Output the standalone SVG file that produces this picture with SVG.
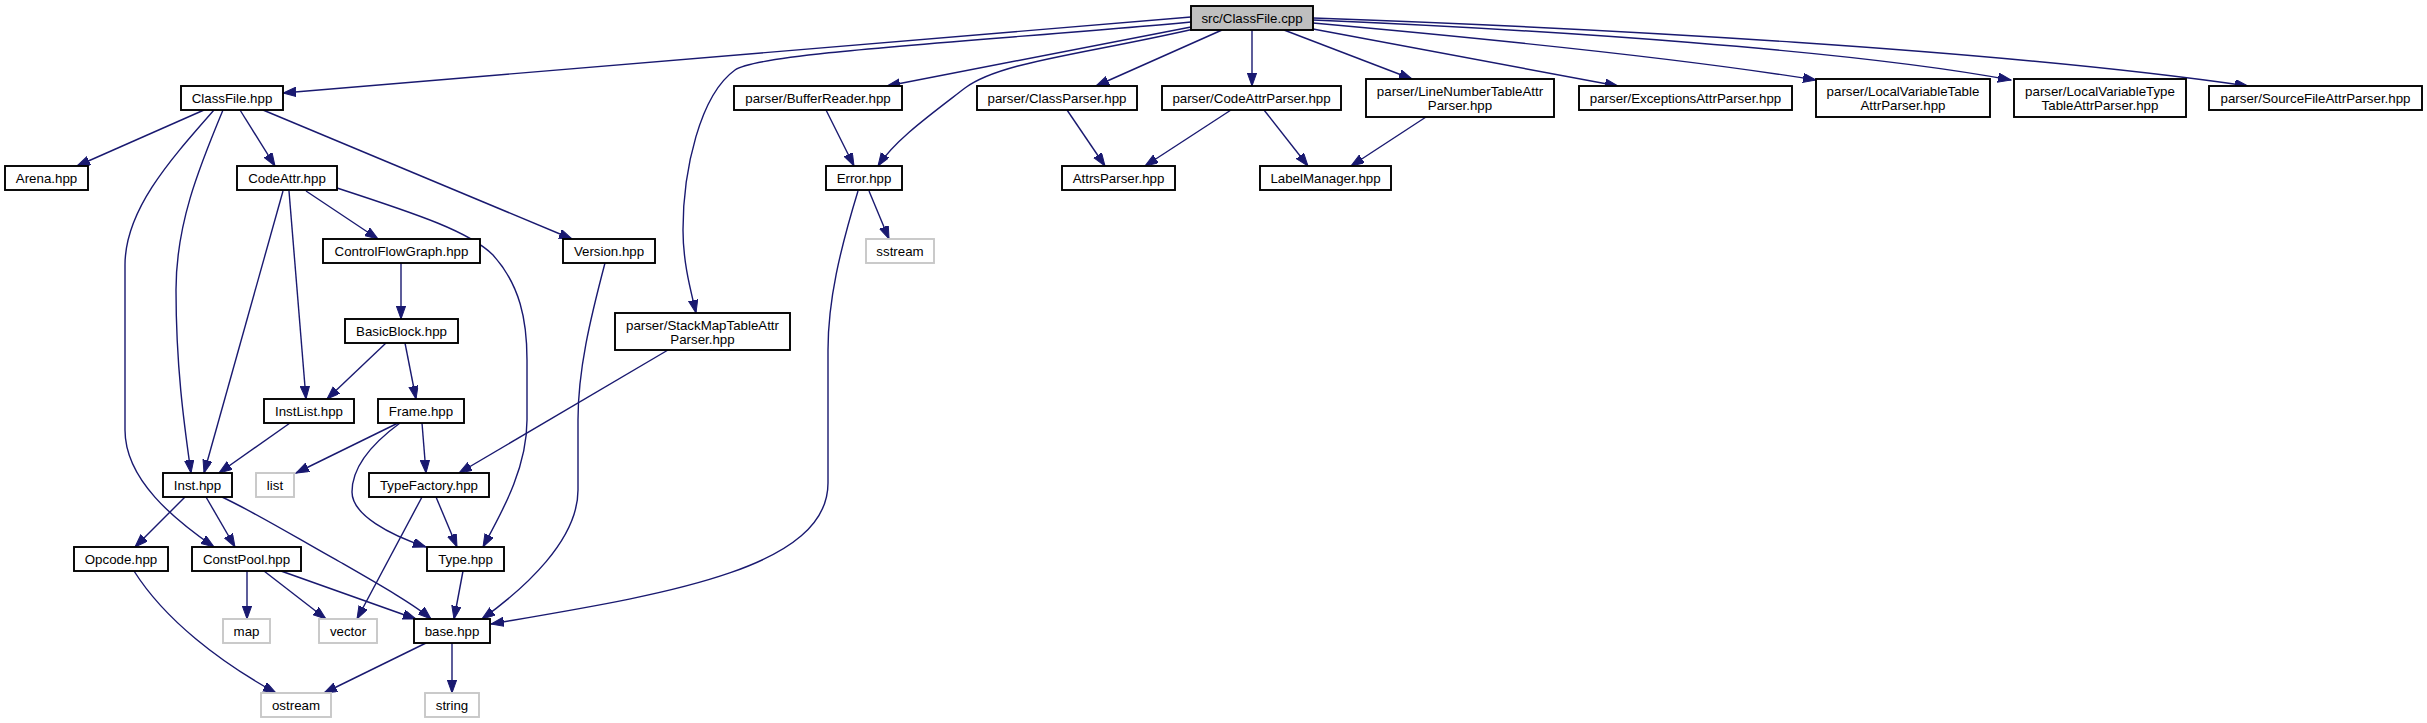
<svg xmlns="http://www.w3.org/2000/svg" width="2427" height="723" viewBox="0 0 2427 723">
<defs>
<style>
.n rect{fill:#ffffff;stroke:#000000;stroke-width:1.9}
.n.sys rect{stroke:#c8c8c8}
.n.root rect{fill:#bfbfbf}
.n text{font-family:"Liberation Sans",Arial,Helvetica,sans-serif;font-size:13.3px;fill:#000000;text-anchor:middle}
#edges path{fill:none;stroke:#191970;stroke-width:1.4;marker-end:url(#arr)}
</style>
<marker id="arr" markerUnits="userSpaceOnUse" markerWidth="14" markerHeight="10" refX="13" refY="4.65" orient="auto" viewBox="0 0 14 10">
<path d="M0,0 L13,4.65 L0,9.3 z" fill="#191970" stroke="#191970" stroke-width="1"/>
</marker>
</defs>
<rect width="2427" height="723" fill="#ffffff"/>
<g id="edges">
<path d="M1191,17 L283,93"/>
<path d="M1191,27 L887,86"/>
<path d="M1194,29 C1080,55 1000,62 965,88 C930,115 895,140 878,166"/>
<path d="M1191,22 C1000,40 760,52 735,70 C700,95 683,170 683,230 C683,265 692,295 696,313"/>
<path d="M1222,30 L1096,86"/>
<path d="M1252,30 L1252,86"/>
<path d="M1284,30 L1412,79"/>
<path d="M1313,29 L1618,86"/>
<path d="M1313,23 C1480,38 1680,58 1816,80"/>
<path d="M1313,20 C1550,30 1850,50 2011,80"/>
<path d="M1313,18 C1600,28 2000,50 2248,86"/>
<path d="M204,110 L77,166"/>
<path d="M214,110 C170,160 125,210 125,265 L125,430 C125,480 175,520 214,547"/>
<path d="M223,110 C198,170 176,225 176,290 C176,370 185,430 191,473"/>
<path d="M240,110 L275,166"/>
<path d="M263,110 L572,239"/>
<path d="M283,191 L204,473"/>
<path d="M289,191 L306,399"/>
<path d="M306,191 L378,239"/>
<path d="M337,188 C420,215 470,232 493,255 C520,285 527,320 527,360 L527,420 C527,470 500,515 483,547"/>
<path d="M401,263 L401,319"/>
<path d="M386,343 L327,399"/>
<path d="M405,343 L416,399"/>
<path d="M290,423 L219,473"/>
<path d="M398,423 L296,473"/>
<path d="M400,423 C370,445 352,468 352,492 C352,515 390,535 426,547"/>
<path d="M422,423 L426,473"/>
<path d="M668,350 L459,473"/>
<path d="M605,263 C590,320 578,370 578,420 L578,490 C578,540 525,588 482,619"/>
<path d="M869,191 L889,239"/>
<path d="M858,191 C840,250 828,300 828,350 L828,483 C828,570 660,595 491,624"/>
<path d="M185,497 L135,547"/>
<path d="M206,497 L235,547"/>
<path d="M222,497 C260,515 300,540 340,562 C380,585 415,605 431,619"/>
<path d="M422,497 L357,619"/>
<path d="M436,497 L457,547"/>
<path d="M247,571 L247,619"/>
<path d="M264,571 L326,619"/>
<path d="M281,571 L416,619"/>
<path d="M463,571 L454,619"/>
<path d="M134,571 C165,620 220,662 276,693"/>
<path d="M426,643 L324,693"/>
<path d="M452,643 L452,693"/>
<path d="M826,110 L854,166"/>
<path d="M1067,110 L1105,166"/>
<path d="M1231,110 L1145,166"/>
<path d="M1264,110 L1308,166"/>
<path d="M1426,117 L1351,166"/>
</g>
<g id="node-root" class="n root"><rect x="1191" y="6" width="122" height="24"/><text x="1252" y="23">src/ClassFile.cpp</text></g>
<g id="node-ClassFile" class="n"><rect x="181" y="86" width="102" height="24"/><text x="232" y="103">ClassFile.hpp</text></g>
<g id="node-BufferReader" class="n"><rect x="734" y="86" width="168" height="24"/><text x="818" y="103">parser/BufferReader.hpp</text></g>
<g id="node-ClassParser" class="n"><rect x="977" y="86" width="160" height="24"/><text x="1057" y="103">parser/ClassParser.hpp</text></g>
<g id="node-CodeAttrParser" class="n"><rect x="1162" y="86" width="179" height="24"/><text x="1251.5" y="103">parser/CodeAttrParser.hpp</text></g>
<g id="node-LineNumberTable" class="n"><rect x="1366" y="79" width="188" height="38"/><text x="1460" y="96">parser/LineNumberTableAttr</text><text x="1460" y="110">Parser.hpp</text></g>
<g id="node-Exceptions" class="n"><rect x="1579" y="86" width="213" height="24"/><text x="1685.5" y="103">parser/ExceptionsAttrParser.hpp</text></g>
<g id="node-LocalVariableTable" class="n"><rect x="1816" y="79" width="174" height="38"/><text x="1903" y="96">parser/LocalVariableTable</text><text x="1903" y="110">AttrParser.hpp</text></g>
<g id="node-LocalVariableType" class="n"><rect x="2014" y="79" width="172" height="38"/><text x="2100" y="96">parser/LocalVariableType</text><text x="2100" y="110">TableAttrParser.hpp</text></g>
<g id="node-SourceFile" class="n"><rect x="2209" y="86" width="213" height="24"/><text x="2315.5" y="103">parser/SourceFileAttrParser.hpp</text></g>
<g id="node-Arena" class="n"><rect x="5" y="166" width="83" height="24"/><text x="46.5" y="183">Arena.hpp</text></g>
<g id="node-CodeAttr" class="n"><rect x="237" y="166" width="100" height="24"/><text x="287" y="183">CodeAttr.hpp</text></g>
<g id="node-Error" class="n"><rect x="826" y="166" width="76" height="24"/><text x="864" y="183">Error.hpp</text></g>
<g id="node-AttrsParser" class="n"><rect x="1062" y="166" width="113" height="24"/><text x="1118.5" y="183">AttrsParser.hpp</text></g>
<g id="node-LabelManager" class="n"><rect x="1260" y="166" width="131" height="24"/><text x="1325.5" y="183">LabelManager.hpp</text></g>
<g id="node-ControlFlowGraph" class="n"><rect x="323" y="239" width="157" height="24"/><text x="401.5" y="256">ControlFlowGraph.hpp</text></g>
<g id="node-Version" class="n"><rect x="563" y="239" width="92" height="24"/><text x="609" y="256">Version.hpp</text></g>
<g id="node-sstream" class="n sys"><rect x="866" y="239" width="68" height="24"/><text x="900" y="256">sstream</text></g>
<g id="node-StackMap" class="n"><rect x="615" y="313" width="175" height="37"/><text x="702.5" y="329.5">parser/StackMapTableAttr</text><text x="702.5" y="343.5">Parser.hpp</text></g>
<g id="node-BasicBlock" class="n"><rect x="345" y="319" width="113" height="24"/><text x="401.5" y="336">BasicBlock.hpp</text></g>
<g id="node-InstList" class="n"><rect x="264" y="399" width="90" height="24"/><text x="309" y="416">InstList.hpp</text></g>
<g id="node-Frame" class="n"><rect x="378" y="399" width="86" height="24"/><text x="421" y="416">Frame.hpp</text></g>
<g id="node-Inst" class="n"><rect x="163" y="473" width="69" height="24"/><text x="197.5" y="490">Inst.hpp</text></g>
<g id="node-list" class="n sys"><rect x="256" y="473" width="38" height="24"/><text x="275" y="490">list</text></g>
<g id="node-TypeFactory" class="n"><rect x="369" y="473" width="120" height="24"/><text x="429" y="490">TypeFactory.hpp</text></g>
<g id="node-Opcode" class="n"><rect x="74" y="547" width="94" height="24"/><text x="121" y="564">Opcode.hpp</text></g>
<g id="node-ConstPool" class="n"><rect x="192" y="547" width="109" height="24"/><text x="246.5" y="564">ConstPool.hpp</text></g>
<g id="node-Type" class="n"><rect x="427" y="547" width="77" height="24"/><text x="465.5" y="564">Type.hpp</text></g>
<g id="node-map" class="n sys"><rect x="223" y="619" width="47" height="24"/><text x="246.5" y="636">map</text></g>
<g id="node-vector" class="n sys"><rect x="319" y="619" width="58" height="24"/><text x="348" y="636">vector</text></g>
<g id="node-base" class="n"><rect x="414" y="619" width="76" height="24"/><text x="452" y="636">base.hpp</text></g>
<g id="node-ostream" class="n sys"><rect x="261" y="693" width="70" height="24"/><text x="296" y="710">ostream</text></g>
<g id="node-string" class="n sys"><rect x="425" y="693" width="54" height="24"/><text x="452" y="710">string</text></g>
</svg>
